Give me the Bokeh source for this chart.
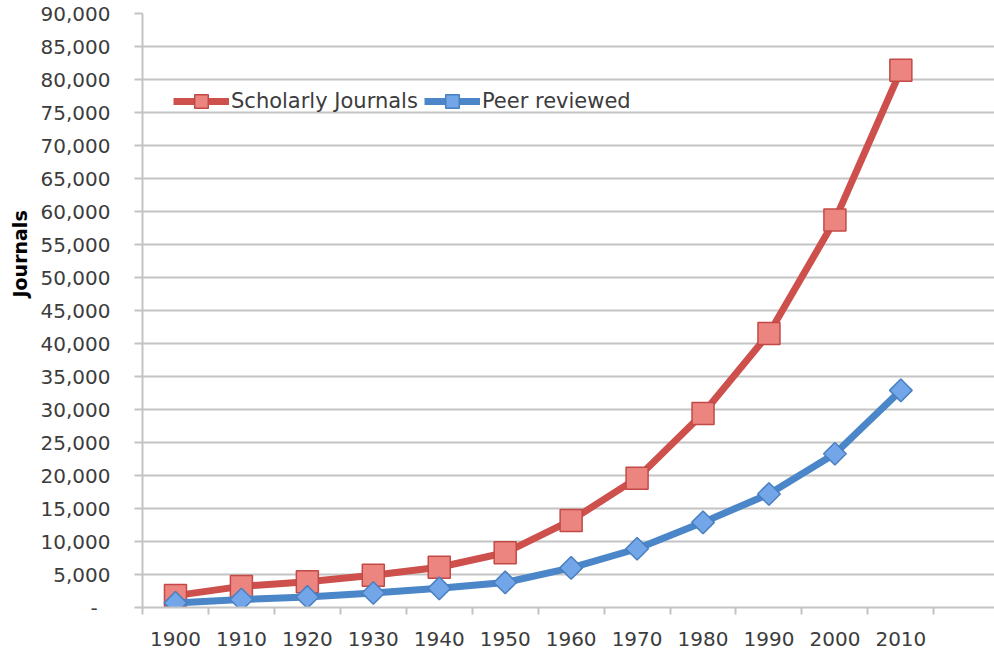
import numpy as np
from bokeh.plotting import figure
from bokeh.models import (Range1d, FixedTicker, CustomJSTickFormatter, Legend,
                          LegendItem, Title)
from bokeh.embed import file_html
from bokeh.resources import INLINE

# ---- data ----
years = [1900, 1910, 1920, 1930, 1940, 1950, 1960, 1970, 1980, 1990, 2000, 2010]
scholarly = [1800, 3200, 3900, 4900, 6100, 8300, 13200, 19600, 29400, 41500, 58700, 81400]
peer = [700, 1200, 1600, 2200, 2900, 3800, 6000, 8900, 12900, 17200, 23300, 32900]
y_ticks = list(range(0, 90001, 5000))
series_names = ["Scholarly Journals", "Peer reviewed"]
y_title = "Journals"

FONT = "DejaVu Sans"
TXT = "#3C3C3C"
GRID = "#C4C4C4"

p = figure(width=994, height=652, output_backend="svg", toolbar_location=None,
           x_range=Range1d(1895, 2024.2), y_range=Range1d(0, 90000),
           min_border_left=141, min_border_right=0, min_border_top=13,
           min_border_bottom=45)
p.outline_line_color = None
p.background_fill_color = "white"

# grid
p.xgrid.grid_line_color = None
p.ygrid.grid_line_color = GRID
p.ygrid.grid_line_width = 2

# y axis
p.yaxis.ticker = FixedTicker(ticks=y_ticks)
p.yaxis.formatter = CustomJSTickFormatter(
    code="return tick == 0 ? '-\u00a0\u00a0' : tick.toLocaleString('en-US');")
p.yaxis.axis_line_color = GRID
p.yaxis.axis_line_width = 2
p.yaxis.major_tick_line_color = GRID
p.yaxis.major_tick_line_width = 2
p.yaxis.major_tick_out = 8
p.yaxis.major_tick_in = 0
p.yaxis.minor_tick_line_color = None
p.yaxis.major_label_standoff = 24
p.yaxis.major_label_text_font = FONT
p.yaxis.major_label_text_font_size = "20px"
p.yaxis.major_label_text_color = TXT

# x axis
p.xaxis.ticker = FixedTicker(ticks=years, minor_ticks=[y - 5 for y in years] + [2015])
p.xaxis.formatter = CustomJSTickFormatter(code="return tick.toFixed(0);")
p.xaxis.axis_line_color = GRID
p.xaxis.axis_line_width = 2
p.xaxis.major_tick_out = 0
p.xaxis.major_tick_in = 0
p.xaxis.minor_tick_out = 7
p.xaxis.minor_tick_in = 0
p.xaxis.minor_tick_line_color = GRID
p.xaxis.minor_tick_line_width = 2
p.xaxis.major_label_standoff = 17
p.xaxis.major_label_text_font = FONT
p.xaxis.major_label_text_font_size = "20px"
p.xaxis.major_label_text_color = TXT

# series
r1 = p.line(years, scholarly, line_color="#CD504C", line_width=7)
s1 = p.scatter(years, scholarly, marker="square", size=22,
               fill_color="#EC8580", line_color="#C24A46", line_width=1.5)
r2 = p.line(years, peer, line_color="#4A86C8", line_width=7)
s2 = p.scatter(years, peer, marker="square", angle=np.pi / 4, size=16,
               fill_color="#72A6E8", line_color="#4A7FC0", line_width=1.5)

legend = Legend(items=[LegendItem(label=series_names[0], renderers=[r1, s1]),
                       LegendItem(label=series_names[1], renderers=[r2, s2])],
                orientation="horizontal", location=(31, 489), padding=0, margin=0,
                spacing=6, label_standoff=2, glyph_width=56, glyph_height=34,
                background_fill_alpha=0, border_line_color=None,
                label_text_font=FONT, label_text_font_size="21px",
                label_text_color=TXT)
p.add_layout(legend)

ttl = Title(text=y_title, align="left", offset=310, standoff=13,
            text_font=FONT, text_font_size="19px", text_font_style="bold",
            text_color="#000000")
p.add_layout(ttl, "left")

open("out.html", "w").write(file_html(p, INLINE))
